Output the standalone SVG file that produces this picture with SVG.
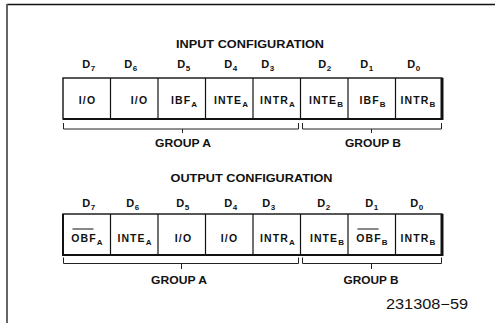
<svg xmlns="http://www.w3.org/2000/svg" width="495" height="323" viewBox="0 0 495 323">
<style>
text{font-family:"Liberation Sans",Arial,Helvetica,sans-serif;fill:#111}
.t{font-size:10px;font-weight:bold}
.c{font-size:10.5px;font-weight:bold;letter-spacing:1.1px;text-anchor:middle}
.d{font-size:11px;font-weight:bold;letter-spacing:0.5px;text-anchor:middle}
.s{font-size:8px}
.reg{fill:#fff;stroke:#111;stroke-width:1.4}
.div{stroke:#111;stroke-width:1.2}
.brk{fill:none;stroke:#222;stroke-width:1}
</style>
<g id="frame">
<line x1="7" y1="4.5" x2="495" y2="4.5" stroke="#111" stroke-width="1.6"/>
<line x1="7" y1="4" x2="7" y2="323" stroke="#555" stroke-width="1.8"/>
</g>

<g id="input-config">
<text class="t" x="250" y="47.5" text-anchor="middle" textLength="148" lengthAdjust="spacingAndGlyphs">INPUT CONFIGURATION</text>
<g id="in-bits">
<text class="d" x="89" y="68">D<tspan class="s" dy="3">7</tspan></text>
<text class="d" x="131" y="68">D<tspan class="s" dy="3">6</tspan></text>
<text class="d" x="184" y="68">D<tspan class="s" dy="3">5</tspan></text>
<text class="d" x="231" y="68">D<tspan class="s" dy="3">4</tspan></text>
<text class="d" x="268" y="68">D<tspan class="s" dy="3">3</tspan></text>
<text class="d" x="325" y="68">D<tspan class="s" dy="3">2</tspan></text>
<text class="d" x="367" y="68">D<tspan class="s" dy="3">1</tspan></text>
<text class="d" x="414" y="68">D<tspan class="s" dy="3">0</tspan></text>
</g>
<g id="in-register">
<rect class="reg" x="63" y="78" width="379" height="41"/>
<line x1="63" y1="119" x2="442" y2="119" stroke="#111" stroke-width="2"/>
<line x1="442" y1="78" x2="442" y2="120" stroke="#111" stroke-width="3"/>
<line class="div" x1="110.5" y1="78" x2="110.5" y2="119"/>
<line class="div" x1="158" y1="78" x2="158" y2="119"/>
<line class="div" x1="205.5" y1="78" x2="205.5" y2="119"/>
<line class="div" x1="253" y1="78" x2="253" y2="119"/>
<line class="div" x1="300.5" y1="78" x2="300.5" y2="119"/>
<line class="div" x1="348" y1="78" x2="348" y2="119"/>
<line class="div" x1="395.5" y1="78" x2="395.5" y2="119"/>
</g>
<g id="in-cells">
<text class="c" x="87.5" y="104">I/O</text>
<text class="c" x="139.5" y="104">I/O</text>
<text class="c" x="184.5" y="104">IBF<tspan class="s" dy="3">A</tspan></text>
<text class="c" x="231.5" y="104">INTE<tspan class="s" dy="3">A</tspan></text>
<text class="c" x="278" y="104">INTR<tspan class="s" dy="3">A</tspan></text>
<text class="c" x="326.5" y="104">INTE<tspan class="s" dy="3">B</tspan></text>
<text class="c" x="373" y="104">IBF<tspan class="s" dy="3">B</tspan></text>
<text class="c" x="418.5" y="104">INTR<tspan class="s" dy="3">B</tspan></text>
</g>
<g id="in-groups">
<path class="brk" d="M63.5,123 V129 H298.5 V123 M182.5,129 V133"/>
<path class="brk" d="M302.5,123 V129 H441.5 V123 M371.5,129 V133"/>
<text class="t" x="183" y="147" text-anchor="middle" textLength="56" lengthAdjust="spacingAndGlyphs">GROUP A</text>
<text class="t" x="373" y="147" text-anchor="middle" textLength="56" lengthAdjust="spacingAndGlyphs">GROUP B</text>
</g>
</g>

<g id="output-config">
<text class="t" x="251.5" y="181.5" text-anchor="middle" textLength="162" lengthAdjust="spacingAndGlyphs">OUTPUT CONFIGURATION</text>
<g id="out-bits">
<text class="d" x="89" y="206.5">D<tspan class="s" dy="3">7</tspan></text>
<text class="d" x="133" y="206.5">D<tspan class="s" dy="3">6</tspan></text>
<text class="d" x="183" y="206.5">D<tspan class="s" dy="3">5</tspan></text>
<text class="d" x="231" y="206.5">D<tspan class="s" dy="3">4</tspan></text>
<text class="d" x="269" y="206.5">D<tspan class="s" dy="3">3</tspan></text>
<text class="d" x="324" y="206.5">D<tspan class="s" dy="3">2</tspan></text>
<text class="d" x="372" y="206.5">D<tspan class="s" dy="3">1</tspan></text>
<text class="d" x="417" y="206.5">D<tspan class="s" dy="3">0</tspan></text>
</g>
<g id="out-register">
<rect class="reg" x="63" y="214" width="379" height="41"/>
<line x1="63" y1="255" x2="442" y2="255" stroke="#111" stroke-width="2"/>
<line x1="442" y1="214" x2="442" y2="256" stroke="#111" stroke-width="3"/>
<line x1="63" y1="214" x2="63" y2="256" stroke="#111" stroke-width="2"/>
<line class="div" x1="110.5" y1="214" x2="110.5" y2="255"/>
<line class="div" x1="158" y1="214" x2="158" y2="255"/>
<line class="div" x1="205.5" y1="214" x2="205.5" y2="255"/>
<line class="div" x1="253" y1="214" x2="253" y2="255"/>
<line class="div" x1="300.5" y1="214" x2="300.5" y2="255"/>
<line class="div" x1="348" y1="214" x2="348" y2="255"/>
<line class="div" x1="395.5" y1="214" x2="395.5" y2="255"/>
</g>
<g id="out-cells">
<text class="c" x="87.5" y="241.5">OBF<tspan class="s" dy="3">A</tspan></text>
<line x1="72.5" y1="229" x2="93.5" y2="229" stroke="#111" stroke-width="1"/>
<text class="c" x="135" y="241.5">INTE<tspan class="s" dy="3">A</tspan></text>
<text class="c" x="183.5" y="241.5">I/O</text>
<text class="c" x="229.5" y="241.5">I/O</text>
<text class="c" x="278" y="241.5">INTR<tspan class="s" dy="3">A</tspan></text>
<text class="c" x="327.5" y="241.5">INTE<tspan class="s" dy="3">B</tspan></text>
<text class="c" x="372.5" y="241.5">OBF<tspan class="s" dy="3">B</tspan></text>
<line x1="357.5" y1="229" x2="378.5" y2="229" stroke="#111" stroke-width="1"/>
<text class="c" x="418.5" y="241.5">INTR<tspan class="s" dy="3">B</tspan></text>
</g>
<g id="out-groups">
<path class="brk" d="M63.5,257.5 V263.5 H298.5 V257.5 M181.5,263.5 V269"/>
<path class="brk" d="M302.5,257.5 V263.5 H441.5 V257.5 M371.5,263.5 V269"/>
<text class="t" x="179" y="284" text-anchor="middle" textLength="56" lengthAdjust="spacingAndGlyphs">GROUP A</text>
<text class="t" x="371" y="284" text-anchor="middle" textLength="55" lengthAdjust="spacingAndGlyphs">GROUP B</text>
</g>
</g>

<text id="fig-number" x="427" y="309" text-anchor="middle" font-size="14" textLength="82" lengthAdjust="spacingAndGlyphs">231308−59</text>
</svg>
